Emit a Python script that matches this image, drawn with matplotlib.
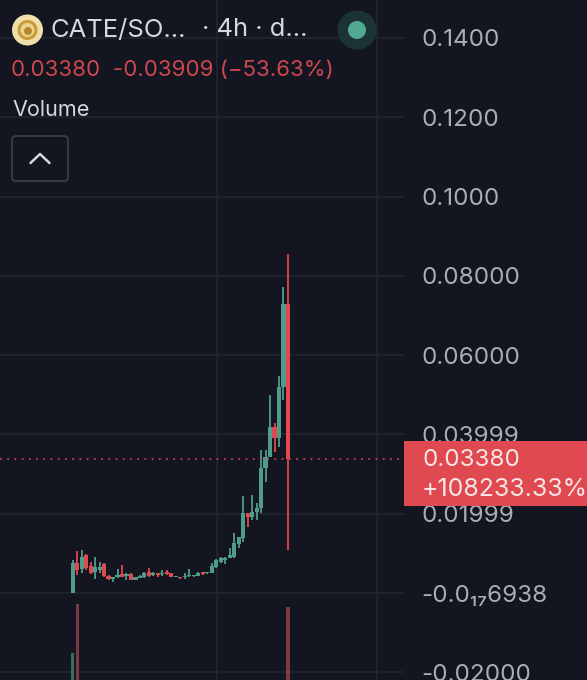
"""Recreate the CATE/SOL 4h candlestick screenshot."""

import matplotlib
matplotlib.use("Agg")
import matplotlib.pyplot as plt
from matplotlib.patches import Circle, FancyBboxPatch, Rectangle

# -- Data ---------------------------------------------------------------------

opens = [0.00000, 0.00748, 0.00597, 0.00958, 0.00681, 0.00538, 0.00580,
         0.00731, 0.00437, 0.00344, 0.00395, 0.00479, 0.00428, 0.00479,
         0.00328, 0.00386, 0.00412, 0.00538, 0.00454, 0.00496, 0.00470,
         0.00521, 0.00496, 0.00395, 0.00412, 0.00395, 0.00420, 0.00420,
         0.00437, 0.00521, 0.00496, 0.00496, 0.00663, 0.00790, 0.00832,
         0.00874, 0.00916, 0.01235, 0.01378, 0.02008, 0.01924, 0.02050,
         0.02134, 0.03143, 0.03438, 0.04194, 0.03900, 0.05186, 0.07289]
highs = [0.00832, 0.01068, 0.01084, 0.00983, 0.00790, 0.00916, 0.00773,
         0.00748, 0.00454, 0.00412, 0.00597, 0.00706, 0.00496, 0.00513,
         0.00395, 0.00454, 0.00538, 0.00622, 0.00529, 0.00513, 0.00580,
         0.00580, 0.00513, 0.00412, 0.00412, 0.00496, 0.00597, 0.00454,
         0.00529, 0.00529, 0.00538, 0.00748, 0.00848, 0.00916, 0.00899,
         0.01126, 0.01521, 0.01420, 0.02446, 0.02025, 0.02471, 0.02261,
         0.03606, 0.03606, 0.04993, 0.04295, 0.05472, 0.07725, 0.08549]
lows = [0.00000, 0.00454, 0.00513, 0.00580, 0.00479, 0.00344, 0.00496,
        0.00412, 0.00328, 0.00285, 0.00370, 0.00395, 0.00328, 0.00328,
        0.00328, 0.00370, 0.00370, 0.00412, 0.00428, 0.00395, 0.00428,
        0.00454, 0.00395, 0.00395, 0.00353, 0.00344, 0.00412, 0.00412,
        0.00428, 0.00462, 0.00479, 0.00496, 0.00621, 0.00747, 0.00731,
        0.00874, 0.00874, 0.01126, 0.01294, 0.01672, 0.01840, 0.01840,
        0.02008, 0.02807, 0.03438, 0.03564, 0.03690, 0.04867, 0.01084]
closes = [0.00748, 0.00580, 0.00916, 0.00622, 0.00496, 0.00664, 0.00664,
          0.00428, 0.00344, 0.00395, 0.00454, 0.00412, 0.00470, 0.00328,
          0.00395, 0.00428, 0.00496, 0.00437, 0.00513, 0.00462, 0.00513,
          0.00479, 0.00412, 0.00428, 0.00386, 0.00428, 0.00454, 0.00445,
          0.00496, 0.00479, 0.00529, 0.00681, 0.00832, 0.00874, 0.00874,
          0.00958, 0.01252, 0.01403, 0.02008, 0.01924, 0.02050, 0.02134,
          0.03143, 0.03438, 0.04194, 0.03900, 0.05186, 0.07289, 0.03380]

volume_index = [0, 1, 48]
volume_values = [27, 76, 73]
volume_up = [True, False, False]

price_ticks = [0.14, 0.12, 0.10, 0.08, 0.06, 0.03999, 0.01999, -6.938e-18, -0.02]
price_labels = ["0.1400", "0.1200", "0.1000", "0.08000", "0.06000", "0.03999",
                "0.01999", "-0.0₁₇6938", "-0.02000"]
time_ticks = [32.1, 67.9]
last_price = 0.03380

# -- Style --------------------------------------------------------------------

BG = "#131620"
GRID = "#22252E"
GREEN = "#4F9C8A"
RED = "#E0494F"
VOL_GREEN = "#3B6B63"
VOL_RED = "#7A3A44"
AXIS_TEXT = "#A9ADB6"
HEAD_TEXT = "#D5D8E0"
FONT = ["Inter", "DejaVu Sans"]

W, H = 587, 680
CHART_W = 404

fig = plt.figure(figsize=(W / 100, H / 100), dpi=100, facecolor=BG)

# -- Price pane ---------------------------------------------------------------

ax = fig.add_axes([0, 0, CHART_W / W, 1], facecolor=BG)
ax.set_xlim(-16.2, 73.87)
ax.set_ylim(-0.02194, 0.14956)
for side in ax.spines.values():
    side.set_visible(False)
ax.set_axisbelow(True)
ax.grid(True, color=GRID, lw=1.2)
ax.set_xticks(time_ticks)
ax.tick_params(axis="x", length=0, labelbottom=False)
ax.yaxis.tick_right()
ax.set_yticks(price_ticks)
ax.set_yticklabels(price_labels, family=FONT, fontsize=17.4, color=AXIS_TEXT)
ax.tick_params(axis="y", length=0, pad=12.5)

xs = range(len(opens))
colors = [GREEN if c >= o else RED for o, c in zip(opens, closes)]
ax.vlines(xs, lows, highs, colors=colors, lw=1.3, zorder=3)
ax.bar(xs, [c - o for o, c in zip(opens, closes)], bottom=opens, width=0.92,
       color=colors, linewidth=0, zorder=4)
ax.axhline(last_price, color=RED, lw=1.3, ls=(0, (1, 3)), alpha=0.85, zorder=5)

# -- Volume bars --------------------------------------------------------------

vol = fig.add_axes([0, 0, CHART_W / W, 1], facecolor="none", sharex=ax)
vol.set_ylim(0, H)
vol.axis("off")
vol.bar(volume_index, volume_values, width=0.7,
        color=[VOL_GREEN if u else VOL_RED for u in volume_up], linewidth=0)

# -- Header and price badge, in pixel coordinates -----------------------------

top = fig.add_axes([0, 0, 1, 1], facecolor="none")
top.set_xlim(0, W)
top.set_ylim(H, 0)
top.axis("off")

top.add_patch(Circle((27.5, 30), 15.5, fc="#F0DFA8", ec="none"))
top.add_patch(Circle((27.5, 30), 10, fc="#C99B36", ec="none"))
top.add_patch(Circle((27.5, 30), 7, fc="#EBD48C", ec="none"))
top.add_patch(Circle((28, 31), 4, fc="#B8862B", ec="none"))
top.add_patch(Circle((357, 30), 19.5, fc="#1B3336", ec="none"))
top.add_patch(Circle((357, 30), 9, fc="#4FA88F", ec="none"))

top.text(51, 30, "CATE/SO...", family=FONT, fontsize=18.4, color=HEAD_TEXT,
         ha="left", va="center")
top.text(308, 30, "· 4h · d...", family=FONT, fontsize=18.4, color=HEAD_TEXT,
         ha="right", va="center")
top.text(11, 70, "0.03380", family=FONT, fontsize=16, color="#D0474E",
         ha="left", va="center")
top.text(113, 70, "-0.03909 (−53.63%)", family=FONT, fontsize=16, color="#D0474E",
         ha="left", va="center")
top.text(12, 110, "Volume", family=FONT, fontsize=15.5, color=HEAD_TEXT,
         ha="left", va="center")

top.add_patch(FancyBboxPatch((15, 139), 50, 39, boxstyle="round,pad=3,rounding_size=4",
                             fc="none", ec="#3A3D47", lw=1.3))
top.plot([30.5, 40, 49.5], [163, 154, 163], color=HEAD_TEXT, lw=1.8,
         solid_capstyle="round")

top.add_patch(Rectangle((CHART_W, 441), W - CHART_W, 65, fc="#E0494F", ec="none"))
top.text(422, 460, "0.03380", family=FONT, fontsize=17.4, color="#F6E6E6",
         ha="left", va="center")
top.text(422, 489, "+108233.33%", family=FONT, fontsize=17.9, color="#F6E6E6",
         ha="left", va="center", clip_on=True)

fig.savefig("out.png", dpi=100, facecolor=BG)
